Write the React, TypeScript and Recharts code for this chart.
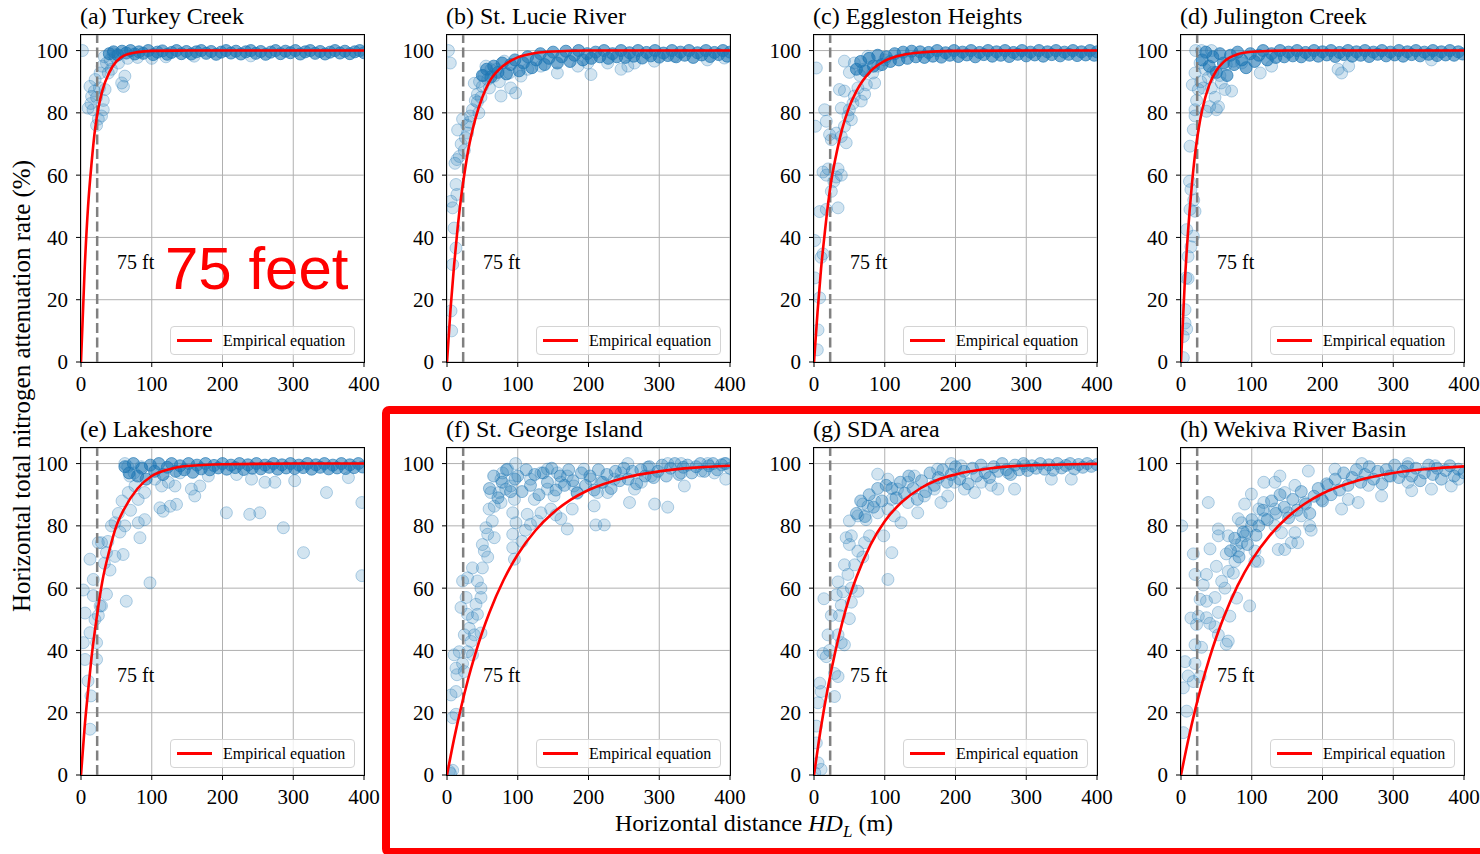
import { ComposedChart, Scatter, Line, XAxis, YAxis, CartesianGrid, ReferenceLine, ReferenceDot } from 'recharts';

type Pt = [number, number];

// axes / labels
const xTicks = [0, 100, 200, 300, 400];
const yTicks = [0, 20, 40, 60, 80, 100];
const bufferM = 22.86; // 75 ft in metres
const titles = [
    '(a) Turkey Creek', '(b) St. Lucie River', '(c) Eggleston Heights', '(d) Julington Creek',
    '(e) Lakeshore', '(f) St. George Island', '(g) SDA area', '(h) Wekiva River Basin',
];

const curveA: Pt[] = [[0, 0], [5, 29], [10, 50], [15, 64], [20, 75], [25, 82], [30, 87], [40, 93], [50, 96.5], [60, 98.3], [80, 99.5], [100, 99.9], [150, 100], [200, 100], [300, 100], [400, 100]];
const curveB: Pt[] = [[0, 0], [5, 17], [10, 31], [15, 43], [20, 53], [25, 61], [30, 68], [40, 78], [50, 85], [60, 90], [80, 95.2], [100, 97.8], [125, 99.2], [150, 99.7], [200, 100], [300, 100], [400, 100]];
const curveC: Pt[] = [[0, 0], [5, 16], [10, 30], [15, 41], [20, 51], [25, 59], [30, 65], [40, 75], [50, 82], [60, 87], [80, 93.4], [100, 96.7], [125, 98.6], [150, 99.4], [200, 99.9], [300, 100], [400, 100]];
const curveD: Pt[] = [[0, 0], [5, 24], [10, 42], [15, 56], [20, 67], [25, 75], [30, 81], [40, 89], [50, 93.6], [60, 96.3], [80, 98.8], [100, 99.6], [150, 100], [400, 100]];
const curveE: Pt[] = [[0, 0], [5, 15], [10, 27], [15, 38], [20, 47], [25, 55], [30, 62], [40, 72], [50, 80], [60, 85], [80, 92], [100, 96], [125, 98.2], [150, 99.2], [200, 99.8], [300, 100], [400, 100]];
const curveF: Pt[] = [[0, 0], [10, 11.6], [20, 21.8], [30, 30.9], [40, 38.9], [50, 46], [60, 52.2], [80, 62.6], [100, 70.8], [125, 78.5], [150, 84.2], [175, 88.4], [200, 91.5], [250, 95.4], [300, 97.5], [350, 98.7], [400, 99.3]];
const curveG: Pt[] = [[0, 0], [10, 15.5], [20, 28.5], [30, 39.5], [40, 49], [50, 57], [60, 63.5], [80, 74], [100, 81.5], [125, 87.8], [150, 92], [175, 94.8], [200, 96.5], [250, 98.5], [300, 99.4], [350, 99.7], [400, 99.9]];
const curveH: Pt[] = [[0, 0], [10, 11], [20, 20.9], [30, 29.6], [40, 37.4], [50, 44.3], [60, 50.4], [80, 60.8], [100, 69], [125, 76.8], [150, 82.7], [175, 87.1], [200, 90.4], [250, 94.6], [300, 97], [350, 98.3], [400, 99.1]];

// observations: dense plateau band
const bandA: Pt[] = [[40, 99], [46, 99.6], [52, 98.6], [58, 99.8], [64, 99.2], [70, 100], [76, 98.9], [82, 99.6], [88, 99.1], [95, 100], [102, 98.7], [108, 99.5], [115, 99.9], [122, 98.8], [128, 99.4], [135, 100], [142, 99], [149, 99.7], [156, 98.9], [163, 99.6], [170, 100], [177, 99.1], [184, 99.7], [191, 98.8], [198, 99.5], [205, 100], [212, 99.2], [219, 99.8], [226, 98.9], [233, 99.6], [240, 100], [247, 99.1], [254, 99.7], [261, 98.8], [268, 99.5], [275, 100], [282, 99], [289, 99.8], [296, 99.3], [303, 100], [310, 98.9], [317, 99.6], [324, 100], [331, 99.1], [338, 99.7], [345, 98.9], [352, 99.5], [359, 100], [366, 99.2], [373, 99.8], [380, 99], [387, 99.6], [394, 100], [400, 99.3]];
const bandB: Pt[] = [[50, 92], [56, 94], [62, 91.5], [66, 95], [72, 93], [78, 96], [84, 92.5], [90, 95.5], [96, 97], [102, 93.5], [108, 96], [114, 98], [120, 94.5], [126, 97], [132, 99], [138, 95.5], [144, 97.5], [150, 99.5], [156, 96], [162, 98], [168, 99.8], [174, 96.5], [180, 98.5], [186, 100], [192, 97], [198, 99], [204, 97.5], [210, 99.5], [216, 98], [222, 100], [228, 97.5], [234, 99], [240, 98], [246, 100], [252, 97.8], [258, 99.3], [264, 98.2], [270, 100], [276, 97.6], [282, 99.4], [288, 98.3], [294, 100], [300, 97.9], [306, 99.2], [312, 98.4], [318, 100], [324, 98], [330, 99.5], [336, 98.5], [342, 100], [348, 97.8], [354, 99.3], [360, 98.6], [366, 100], [372, 98.1], [378, 99.4], [384, 98.7], [390, 100], [396, 98.2], [400, 99.5]];
const bandC: Pt[] = [[60, 94], [66, 96.5], [72, 93.5], [78, 97.5], [84, 95], [90, 98.5], [96, 95.5], [102, 98], [108, 96.5], [114, 99], [120, 97], [126, 99.5], [132, 97.5], [138, 99.8], [144, 98], [150, 99.6], [156, 97.8], [162, 99.4], [168, 98.2], [174, 100], [180, 97.9], [186, 99.3], [192, 98.5], [198, 100], [204, 98.1], [210, 99.5], [216, 98.6], [222, 100], [228, 98], [234, 99.4], [240, 98.7], [246, 100], [252, 98.2], [258, 99.6], [264, 98.5], [270, 100], [276, 98.1], [282, 99.4], [288, 98.8], [294, 100], [300, 98.3], [306, 99.5], [312, 98.6], [318, 100], [324, 98.2], [330, 99.6], [336, 98.7], [342, 100], [348, 98.3], [354, 99.5], [360, 98.8], [366, 100], [372, 98.4], [378, 99.6], [384, 98.6], [390, 100], [396, 98.5], [400, 99.6]];
const bandD: Pt[] = [[30, 97], [35, 99.5], [40, 95], [45, 98], [50, 93], [55, 99], [60, 96], [65, 92], [70, 98.5], [75, 95.5], [80, 99.5], [86, 97], [92, 94.5], [98, 99], [104, 96.5], [110, 98.5], [116, 100], [122, 97], [128, 99], [134, 97.8], [140, 100], [146, 98], [152, 99.5], [158, 98.3], [164, 100], [170, 98], [176, 99.4], [182, 98.5], [188, 100], [194, 98.2], [200, 99.6], [206, 98.6], [212, 100], [218, 98.1], [224, 99.4], [230, 98.7], [236, 100], [242, 98.2], [248, 99.6], [254, 98.5], [260, 100], [266, 98.1], [272, 99.5], [278, 98.8], [284, 100], [290, 98.3], [296, 99.5], [302, 98.6], [308, 100], [314, 98.2], [320, 99.6], [326, 98.7], [332, 100], [338, 98.3], [344, 99.5], [350, 98.8], [356, 100], [362, 98.4], [368, 99.6], [374, 98.6], [380, 100], [386, 98.5], [392, 99.6], [398, 98.9]];
const bandE: Pt[] = [[62, 99], [68, 97], [74, 100], [80, 96], [86, 98.5], [92, 95], [98, 99.5], [104, 97.5], [110, 100], [116, 96.5], [122, 98.8], [128, 100], [134, 97.5], [140, 99.3], [146, 98], [152, 100], [158, 97.2], [164, 99.5], [170, 98.3], [176, 100], [182, 98], [188, 99.4], [194, 98.6], [200, 100], [206, 98.2], [212, 99.5], [218, 98.7], [224, 100], [230, 98.1], [236, 99.6], [242, 98.5], [248, 100], [254, 98.3], [260, 99.5], [266, 98.8], [272, 100], [278, 98.2], [284, 99.6], [290, 98.6], [296, 100], [302, 98.4], [308, 99.5], [314, 98.7], [320, 100], [326, 98.2], [332, 99.6], [338, 98.8], [344, 100], [350, 98.3], [356, 99.5], [362, 98.6], [368, 100], [374, 98.4], [380, 99.6], [386, 98.7], [392, 100], [398, 98.9]];
const bandF: Pt[] = [[60, 92], [66, 96], [72, 89], [78, 94], [84, 98], [90, 91], [96, 95], [100, 96], [106, 91], [112, 98], [118, 93], [124, 96.5], [130, 90], [136, 97], [142, 94], [148, 98.5], [154, 91.5], [160, 96], [166, 93], [172, 98], [178, 94.5], [184, 90.5], [190, 97], [196, 93], [202, 96], [208, 91.5], [214, 98], [220, 94], [226, 96.5], [232, 92], [238, 97.5], [244, 94.5], [250, 98.5], [256, 95], [262, 97.5], [268, 93.5], [274, 98], [280, 96], [286, 99], [292, 95.5], [298, 97.5], [304, 99.5], [310, 96], [316, 98.5], [322, 100], [328, 96.5], [334, 98.8], [340, 99.5], [346, 97], [352, 99], [358, 100], [364, 97.5], [370, 99.3], [376, 100], [382, 98], [388, 99.6], [394, 100], [400, 98.5]];
const bandG: Pt[] = [[60, 84], [66, 88], [72, 83], [78, 90], [84, 86], [90, 92], [96, 88], [102, 93], [110, 92], [116, 89], [122, 94], [128, 90.5], [134, 96], [140, 92], [146, 88.5], [152, 94.5], [158, 91], [164, 97], [170, 93], [176, 95.5], [182, 98], [188, 94], [194, 96.5], [200, 99], [206, 95], [212, 97.5], [218, 93.5], [224, 98.5], [230, 96], [236, 99.5], [242, 97], [248, 95.5], [254, 99], [260, 97.5], [266, 100], [272, 98], [278, 96.5], [284, 99.5], [290, 98], [296, 100], [302, 97.8], [308, 99.3], [314, 98.5], [320, 100], [326, 98.2], [332, 99.6], [338, 97.9], [344, 100], [350, 98.6], [356, 99.4], [362, 100], [368, 98.3], [374, 99.7], [380, 98.8], [386, 100], [392, 99.1], [400, 99.7]];
const bandH: Pt[] = [[70, 72], [76, 76], [82, 70], [88, 78], [94, 74], [100, 82], [106, 77], [110, 80], [116, 85], [122, 82], [128, 88], [134, 84], [140, 90], [146, 86], [152, 82.5], [158, 88.5], [164, 85], [170, 91], [176, 87], [182, 84], [188, 89.5], [194, 92], [200, 88], [206, 93.5], [212, 90], [218, 95], [224, 91.5], [230, 97], [236, 93], [242, 95.5], [248, 98], [254, 94], [260, 96.5], [266, 99], [272, 95], [278, 97.5], [284, 93.5], [290, 98], [296, 96], [302, 99.5], [308, 95.5], [314, 97.5], [320, 99], [326, 96], [332, 98.5], [338, 94.5], [344, 97], [350, 99.5], [356, 96.5], [362, 98.5], [368, 95], [374, 97.8], [380, 99.3], [386, 96], [392, 98.2], [400, 97]];

// observations: scattered wells
const ptsA: Pt[] = [[2, 100], [12.7, 88.5], [15, 85.3], [10, 81.5], [17, 81], [24.5, 78], [22, 76], [31.5, 84], [34, 87.5], [38.6, 92.8], [36, 96], [43, 94], [57.5, 89.6], [60, 88.5], [62, 91.8], [20, 90.7], [27, 92.8], [31.5, 81], [29, 79], [22, 85], [41, 97], [48, 98], [14, 83], [19, 87], [26, 88], [30, 95], [33, 98], [45, 99], [53, 96], [66, 97.5], [80, 97.8], [100, 97.5], [120, 98], [160, 98.2], [240, 98.3]];
const ptsB: Pt[] = [[2, 100], [4.7, 96], [5.7, 51.6], [12.7, 57], [14, 53.8], [8, 49.5], [10, 43], [12.7, 36.6], [8, 31.3], [5.7, 16.4], [6.6, 10], [11.3, 63.8], [17.4, 66], [24.5, 68], [29, 73.5], [15, 74.5], [22, 78], [31.5, 77], [36, 81], [43, 83.5], [38.6, 89.5], [43, 86], [48, 85], [50, 88.5], [57.5, 90.7], [55, 95], [62, 93.9], [66.8, 91.8], [76.3, 85.4], [90, 88], [97, 86.4], [81, 96.6], [88, 92.8], [104.5, 91.8], [114, 94], [132.8, 95], [156, 92.8], [185, 95], [203.5, 92.3], [246, 94], [255.6, 95], [265, 96], [293, 96.6], [368, 97], [392, 97.6], [199, 96], [227, 96], [321, 98.2], [20, 70], [26, 72], [14, 65], [33, 79], [40, 84], [46, 90], [52, 92], [60, 88], [70, 94], [74, 90], [45, 80], [28, 76]];
const ptsC: Pt[] = [[3.3, 94.4], [2, 75.7], [15, 81], [17.4, 77.3], [22, 73], [24.5, 71.4], [31.5, 73.5], [38.6, 72.4], [43, 75.7], [45.5, 70.4], [52.8, 77.8], [50, 81], [38.6, 81.5], [36, 87.5], [43, 87], [57, 85.4], [62, 88], [66.8, 83.8], [71.5, 86], [74, 89], [85.7, 89.6], [83, 92.8], [43, 96.6], [57, 96], [76, 98.2], [12.7, 61], [17.4, 60], [31.5, 59.4], [38.6, 60], [34, 62], [24.5, 54.8], [8, 48.3], [17.4, 49], [34, 49.5], [1, 39], [12.7, 34.7], [1, 27], [8, 20.6], [5.7, 10.3], [4.7, 3.9], [10, 33.6], [28, 58], [20, 62], [48, 79], [55, 83], [65, 92], [50, 93], [70, 94], [90, 95], [100, 97]];
const ptsD: Pt[] = [[20.7, 100], [29, 100], [43, 100], [19.8, 92.8], [27, 96], [34, 94], [38.6, 91.3], [43, 88], [48, 85], [50, 81], [36, 80.5], [40.5, 82], [53, 82], [24.5, 87.5], [31.5, 88], [62, 87.5], [71.5, 87], [57, 89.6], [64, 95.5], [74, 96.6], [85.7, 96], [112, 92.8], [128, 95], [227, 92.8], [222, 94], [237, 95], [354, 97], [19.8, 81], [19.8, 79], [17.4, 74.6], [12.7, 69.3], [14, 55.4], [12.7, 49], [19.8, 48.4], [8, 42.5], [17.4, 40.4], [10, 33.9], [10, 26.8], [5.7, 16.8], [5.7, 12.5], [3.3, 8.2], [3.3, 1.4], [8, 10.6], [22, 84], [28, 90], [45, 93], [55, 92], [16, 89], [12, 58], [18, 52], [14, 37], [7, 27]];
const ptsE: Pt[] = [[62, 100], [66, 99], [69, 96], [76.3, 92.8], [66.8, 90.7], [80.8, 88.5], [90, 90.7], [104.5, 95], [114, 92.8], [123.5, 94], [132.8, 92.8], [156, 91.8], [160.8, 89.6], [168, 92.8], [111.6, 85.8], [116, 84.7], [126, 86.3], [135, 86.9], [205.5, 84.2], [238.5, 83.7], [252.7, 84.2], [241, 95], [260, 94], [274, 94], [302, 94.5], [347, 90.7], [378, 95.5], [397, 87.5], [286, 79.4], [314.5, 71.4], [397, 64], [97.5, 61.7], [64, 55.8], [52.8, 84], [48, 81], [43, 80], [62, 80], [83.3, 76.2], [81, 81], [90, 82], [29, 74.6], [36, 71.4], [48, 70.2], [59.5, 70.8], [41, 65.8], [24.5, 74.6], [12.7, 69.3], [17.4, 62.8], [36, 58], [29, 54.3], [19.8, 49.9], [5.7, 52], [3.3, 59.4], [12.7, 45.7], [22, 42.5], [3.3, 42.5], [5.7, 37.1], [22, 37.1], [10, 30.2], [14, 25.4], [12.7, 14.7], [27, 54.3], [24.5, 51.2], [17.4, 57.6], [33, 68], [38, 75], [55, 78], [70, 85], [58, 88], [75, 97], [85, 99], [140, 97], [180, 96], [220, 96.5]];
const ptsF: Pt[] = [[3.3, 1.2], [5, 0.5], [8, 1.5], [8, 18.4], [12.7, 19.5], [5.7, 25.7], [12.7, 26.8], [14, 32.2], [10, 38.6], [17.4, 39.6], [22, 35.8], [24.5, 33.2], [12.7, 34.3], [29, 39.6], [36, 38.6], [34, 42.9], [24.5, 45], [31.5, 47.1], [38.6, 45], [48, 45.6], [36, 50.5], [43, 51.6], [29, 51.6], [41, 54.8], [48, 57], [19.8, 53.8], [27, 57], [22, 62.3], [29, 63.3], [43, 62.3], [48, 60], [36, 66.5], [50, 66.5], [52.8, 71.9], [57.5, 70], [50, 74], [57.5, 77.3], [66.8, 76.2], [64, 81.5], [55, 79.4], [59.5, 85.4], [66.8, 86.3], [76.3, 87.5], [62, 90.7], [73.5, 90.7], [83, 91.8], [90, 92.8], [78.5, 97], [85.7, 98.2], [97, 100], [76.3, 95], [95.3, 88.5], [92.9, 84.2], [97.5, 81], [92.9, 77.3], [92.9, 73], [95.3, 69.3], [106, 75], [110.8, 78.6], [118, 80.5], [113.4, 83.7], [128, 81.5], [132.8, 84.2], [123.5, 88.5], [118, 95], [132.8, 97], [142, 91.8], [151.3, 89.6], [146.6, 85.4], [142, 98.2], [156, 97], [161, 94], [170, 96], [179.4, 92.8], [177, 85.4], [170, 79], [161, 82.3], [154, 83.5], [184, 90.7], [193.5, 98.2], [203, 95], [212.7, 90.7], [208, 86.4], [210.4, 80.3], [222.3, 80.3], [217.6, 94], [227, 90.7], [236.5, 95], [246, 97], [255.6, 100], [258, 87.5], [265, 91.8], [274.6, 94], [288.7, 96], [293.5, 87], [312, 86], [283.5, 98.8], [312, 100], [331, 100], [331, 97], [335.5, 92.8], [359, 97.6], [378, 97], [394, 95], [392, 100], [368.5, 100]];
const ptsG: Pt[] = [[1, 0.7], [10, 1.8], [5.7, 3.9], [3.3, 10.3], [3.3, 15.7], [5.7, 23.2], [10, 26.8], [8, 29.5], [29, 25.2], [34, 31.6], [29, 32.6], [22, 40], [12.7, 39], [17.4, 38], [38.6, 42.5], [34, 45], [43, 41.8], [19.8, 45], [24.5, 51.2], [36, 51.2], [38.6, 54.5], [50, 50.2], [52.8, 55.5], [31.5, 57.8], [41, 58.8], [14, 56.6], [34, 62], [52.8, 60], [62, 59], [48, 64.4], [43, 67.5], [57.5, 67.5], [62, 71.9], [69, 70], [50, 74], [52.8, 76.8], [45.5, 76.2], [71.5, 74.6], [78.5, 76.8], [98.5, 76.8], [110, 71.4], [104.5, 62.8], [50, 81.6], [62, 83.2], [73.5, 82], [76.3, 86.3], [85.7, 88], [69, 87], [90, 84.2], [104.5, 85.4], [113.4, 83.2], [123, 81], [110, 88.5], [118, 91.8], [132.8, 87.5], [132.8, 94], [146.6, 84.2], [142, 96], [156, 89.6], [170, 91.8], [179.4, 87.5], [189, 89.6], [174.7, 98.2], [194, 100], [207.7, 99.3], [198.7, 94], [212.7, 91.8], [227, 90.7], [236.5, 94], [250.4, 93], [260, 91.8], [283.5, 91.8], [274.6, 97], [298, 99.3], [335.5, 95], [363.7, 95], [90, 96.6], [104.5, 95]];
const ptsH: Pt[] = [[1, 80], [3.3, 13.6], [8, 20.5], [10, 31.8], [3.3, 28], [17.4, 30], [19.8, 35.8], [5.7, 36.4], [27, 31.6], [19.8, 41.8], [29, 41], [14, 50.4], [24.5, 51], [36, 50.5], [40.5, 48.7], [48, 47.6], [52.8, 45], [64, 42], [66.8, 43], [22, 48.3], [27, 56.4], [36, 55.8], [48, 57], [52.8, 52.2], [69, 51], [97, 54.3], [78.5, 56.8], [31.5, 61], [36, 64.4], [19.8, 64.4], [50, 67], [57.5, 62.2], [62, 60], [66.8, 65.4], [74, 64.8], [76.3, 68.6], [81, 71.9], [64, 71], [17.4, 71], [41, 72.6], [52.8, 76.8], [66.8, 76.8], [85.7, 74.6], [90, 76.8], [104.5, 68.6], [109, 68.6], [104.5, 71.9], [52.8, 79], [78.5, 73.8], [92.9, 78], [99.5, 80], [85.7, 81], [81, 82.3], [90, 87], [110, 85.4], [117, 87.5], [99.5, 90.2], [38.6, 87.5], [118, 82.3], [132.8, 80], [142, 77.8], [146.6, 72.4], [137.5, 72.4], [156, 74.6], [165, 74.6], [161, 77.8], [132.8, 85.4], [151.3, 84.2], [170, 83.2], [181.8, 80], [184, 78.6], [174.7, 87.5], [146.6, 90.7], [161, 93], [132.8, 94], [117, 94], [139.8, 96], [180, 97.6], [198.7, 88.5], [208, 93], [227, 85.4], [236.5, 88.5], [250.4, 87.5], [217.6, 98.2], [265, 93], [283.5, 89.6], [293, 96], [321, 94], [326, 91.3], [354, 91.8], [382, 92.8], [392, 95], [359, 99.3], [321, 100], [255.6, 100]];

const curves = [curveA, curveB, curveC, curveD, curveE, curveF, curveG, curveH];
const bands = [bandA, bandB, bandC, bandD, bandE, bandF, bandG, bandH];
const points = [ptsA, ptsB, ptsC, ptsD, ptsE, ptsF, ptsG, ptsH];

const SERIF = '"Liberation Serif", "Times New Roman", serif';
const PLOT_W = 283;
const PLOT_H = 327;
const Y_AXIS_W = 60;
const X_AXIS_H = 40;
const M_TOP = 10;
const M_RIGHT = 25;
const colLeft = [81, 447, 814, 1181];
const rowTop = [35, 448];
const bandAlpha = [0.6, 0.6, 0.6, 0.6, 0.55, 0.35, 0.35, 0.35];

const toXY = (arr: Pt[]) => arr.map(([x, y]) => ({ x, y }));

const dot = (opacity: number) => (props: any) => (
    <circle cx={props.cx} cy={props.cy} r={6} fill="#1f77b4" fillOpacity={opacity}
        stroke="#1f77b4" strokeOpacity={Math.min(1, opacity + 0.12)} strokeWidth={1} />
);

const tickStyle = { fill: '#000', fontSize: 21, fontFamily: SERIF };

const Panel = ({ idx }: { idx: number }) => {
    const left = colLeft[idx % 4];
    const top = rowTop[Math.floor(idx / 4)];
    return (
        <>
            <div style={{ position: 'absolute', left: left - 1, top: top - 33, fontFamily: SERIF, fontSize: 24, lineHeight: '28px', whiteSpace: 'nowrap', color: '#000' }}>
                {titles[idx]}
            </div>
            <div style={{ position: 'absolute', left: left - Y_AXIS_W, top: top - M_TOP }}>
                <ComposedChart
                    width={Y_AXIS_W + PLOT_W + M_RIGHT}
                    height={M_TOP + PLOT_H + X_AXIS_H}
                    margin={{ top: M_TOP, right: M_RIGHT, bottom: 0, left: 0 }}
                >
                    <CartesianGrid stroke="#b0b0b0" strokeWidth={1} />
                    <XAxis dataKey="x" type="number" domain={[0, 400]} ticks={xTicks} interval={0}
                        allowDataOverflow height={X_AXIS_H} tickSize={5} tickMargin={9}
                        axisLine={false} tickLine={{ stroke: '#000' }} tick={tickStyle} />
                    <YAxis dataKey="y" type="number" domain={[0, 105]} ticks={yTicks} interval={0}
                        allowDataOverflow width={Y_AXIS_W} tickSize={5} tickMargin={8}
                        axisLine={false} tickLine={{ stroke: '#000' }} tick={tickStyle} />
                    <Scatter data={toXY(bands[idx])} shape={dot(bandAlpha[idx])} isAnimationActive={false} />
                    <Scatter data={toXY(points[idx])} shape={dot(0.2)} isAnimationActive={false} />
                    <ReferenceLine x={bufferM} stroke="#808080" strokeWidth={2.5} strokeDasharray="10 4.5" zIndex={650} />
                    <Line data={toXY(curves[idx])} dataKey="y" type="monotoneX" stroke="#ff0000"
                        strokeWidth={2.6} dot={false} activeDot={false} isAnimationActive={false} zIndex={700} />
                    <ReferenceDot x={51} y={32} r={0} fill="none" stroke="none" zIndex={700}
                        label={{ value: '75 ft', position: 'right', offset: 0, fill: '#000', fontSize: 20, fontFamily: SERIF }} />
                </ComposedChart>
            </div>
            {/* axes box */}
            <div style={{ position: 'absolute', left: left - 1, top: top - 1, width: PLOT_W, height: PLOT_H, border: '1.3px solid #000', pointerEvents: 'none' }} />
            {/* legend */}
            <div style={{
                position: 'absolute', left: left + 89, top: top + 291, width: 185, height: 29, boxSizing: 'border-box',
                border: '1px solid #d4d4d4', borderRadius: 4, background: 'rgba(255,255,255,0.8)',
            }}>
                <div style={{ position: 'absolute', left: 6, top: 12, width: 35, height: 3, background: '#ff0000' }} />
                <span style={{ position: 'absolute', left: 52, top: 0, lineHeight: '27px', fontFamily: SERIF, fontSize: 16, whiteSpace: 'nowrap', color: '#000' }}>
                    Empirical equation
                </span>
            </div>
        </>
    );
};

const App = () => {
    return (
        <div style={{ position: 'absolute', left: 0, top: 0, width: 1480, height: 854, overflow: 'hidden', background: '#fff' }}>
            {titles.map((_, i) => <Panel key={i} idx={i} />)}
            <div style={{
                position: 'absolute', left: 22, top: 386, transform: 'translate(-50%, -50%) rotate(-90deg)',
                fontFamily: SERIF, fontSize: 25, whiteSpace: 'nowrap', color: '#000',
            }}>
                Horizontal total nitrogen attenuation rate (%)
            </div>
            <div style={{ position: 'absolute', left: 615, top: 810, fontFamily: SERIF, fontSize: 24, whiteSpace: 'nowrap', color: '#000' }}>
                Horizontal distance <i>HD</i><sub style={{ fontSize: 17 }}><i>L</i></sub> (m)
            </div>
            <div style={{ position: 'absolute', left: 165, top: 239, fontFamily: '"Liberation Sans", Arial, sans-serif', fontSize: 60, lineHeight: '60px', color: '#ff0000', whiteSpace: 'nowrap' }}>
                75 feet
            </div>
            <div style={{ position: 'absolute', left: 382, top: 406, width: 1200, height: 434, border: '8px solid #ff0000', borderRadius: 7, pointerEvents: 'none' }} />
        </div>
    );
};

export default App;
